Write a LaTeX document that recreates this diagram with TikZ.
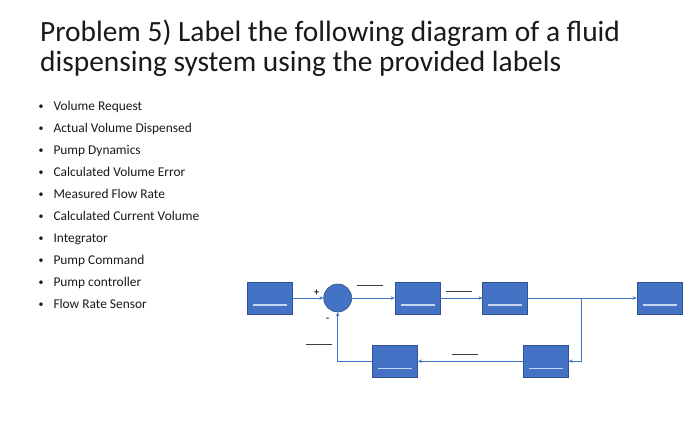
\documentclass[tikz,border=0pt]{standalone}
\usepackage{fontspec}
\setmainfont{Carlito}
\usetikzlibrary{arrows.meta}
\definecolor{blk}{HTML}{4472C4}
\definecolor{blkedge}{HTML}{2F528F}
\definecolor{uln}{HTML}{C5D5F0}
\definecolor{txt}{HTML}{1A1A1A}
\tikzset{
  blockbox/.style={rectangle, fill=blk, draw=blkedge, line width=0.6pt, minimum width=45pt, minimum height=32pt, inner sep=0pt},
  sumcirc/.style={circle, fill=blk, draw=blkedge, line width=0.6pt, minimum size=28pt, inner sep=0pt},
  sig/.style={draw=blk, line width=0.9pt, -{Stealth[length=4pt,width=3.5pt]}},
  uline/.style={draw=uln, line width=1.1pt},
  blank/.style={draw=txt!85, line width=1pt},
  item/.style={anchor=base west, inner sep=0pt, font=\fontsize{13.4}{15}\selectfont, text=txt},
  bul/.style={anchor=base, inner sep=0pt, font=\fontsize{10}{12}\selectfont, text=txt},
  title/.style={anchor=base west, inner sep=0pt, font=\fontsize{29.4}{31}\selectfont, text=txt},
  sign/.style={inner sep=0pt, font=\fontsize{10}{12}\selectfont\bfseries, text=txt}
}
\begin{document}
\begin{tikzpicture}[x=1pt,y=-1pt]
\useasboundingbox (0,0) rectangle (700,426);
\fill[white] (0,0) rectangle (700,426);
% title
\node[title] (t1) at (40,41.7) {Problem 5) Label the following diagram of a fluid};
\node[title] (t2) at (40,71.7) {dispensing system using the provided labels};
% bullet list
\foreach \i/\s in {0/Volume Request,1/Actual Volume Dispensed,2/Pump Dynamics,3/Calculated Volume Error,4/Measured Flow Rate,5/Calculated Current Volume,6/Integrator,7/Pump Command,8/Pump controller,9/Flow Rate Sensor}{
  \node[bul] (bu\i) at (41,109.5+22*\i) {•};
  \node[item] (it\i) at (53.3,110+22*\i) {\s};
}
% blocks
\node[blockbox] (b1) at (269.8,298) {};
\node[sumcirc] (sum) at (337.7,298) {};
\node[blockbox] (b2) at (417.5,298) {};
\node[blockbox] (b3) at (505.2,298) {};
\node[blockbox] (b4) at (659.5,298) {};
\node[blockbox] (b5) at (545.8,361.2) {};
\node[blockbox] (b6) at (395.2,361.2) {};
\foreach \b in {b1,b2,b3,b4,b5,b6}{
  \draw[uline] ([xshift=-17pt,yshift=-7pt]\b.center) -- ([xshift=17pt,yshift=-7pt]\b.center);
}
% connectors
\coordinate (br) at (581.7,298);
\draw[sig] (b1.east) -- (sum.west);
\draw[sig] (sum.east) -- (b2.west);
\draw[sig] (b2.east) -- (b3.west);
\draw[sig] (b3.east) -- (b4.west);
\draw[sig] (br) |- (b5.east);
\draw[sig] (b5.west) -- (b6.east);
\draw[sig] (b6.west) -| (sum.south);
% signs
\node[sign] (plus) at (316.7,292.5) {+};
\node[sign] (minus) at (327.7,319.5) {-};
% blanks
\draw[blank] (356.7,285.7) -- (383.3,285.7);
\draw[blank] (445.7,291.7) -- (472.3,291.7);
\draw[blank] (305.7,344) -- (332.3,344);
\draw[blank] (451.7,354.3) -- (478,354.3);
\end{tikzpicture}
\end{document}
